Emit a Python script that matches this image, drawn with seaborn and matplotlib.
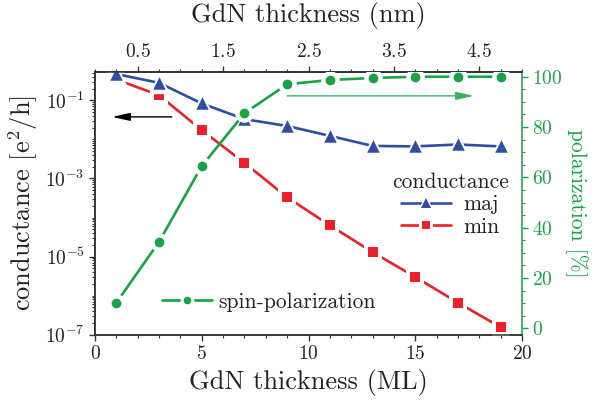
import numpy as np
import matplotlib
matplotlib.use("Agg")
import matplotlib.pyplot as plt
import seaborn as sns
from matplotlib.lines import Line2D
from matplotlib.legend_handler import HandlerTuple
from matplotlib.ticker import FixedLocator, LogLocator, MultipleLocator, NullFormatter, LogFormatterMathtext

# ---- data ----
thickness_ml = [1, 3, 5, 7, 9, 11, 13, 15, 17, 19]
g_maj = [0.47, 0.28, 0.083, 0.033, 0.022, 0.0123, 0.0068, 0.0066, 0.0074, 0.0066]
g_min = [0.34, 0.135, 0.0172, 2.5e-3, 3.3e-4, 6.3e-5, 1.3e-5, 3.0e-6, 6.6e-7, 1.55e-7]
polarization = [10.2, 34.4, 64.5, 85.5, 97.0, 98.7, 99.5, 100.0, 100.0, 100.0]
nm_ticks = [0.5, 1.5, 2.5, 3.5, 4.5]
ml_ticks = [0, 5, 10, 15, 20]
pol_ticks = [0, 20, 40, 60, 80, 100]
log_ticks = [1e-7, 1e-5, 1e-3, 1e-1]

BLUE = "#2F4EA3"
RED = "#EC1F2A"
GREEN = "#17A346"
ARROW_GREEN = "#36B45F"
DARK = "#222222"

sns.set_theme(style="ticks")
plt.rcParams.update({
    "font.family": "cmr10",
    "mathtext.fontset": "cm",
    "axes.formatter.use_mathtext": True,
    "axes.unicode_minus": False,
    "axes.edgecolor": "#333333",
    "axes.linewidth": 1.1,
    "xtick.color": "#333333",
    "ytick.color": "#333333",
    "xtick.labelcolor": DARK,
    "ytick.labelcolor": DARK,
})

fig = plt.figure(figsize=(5.99, 4.03), dpi=100)
L, R, T, B = 95, 522, 71.7, 334.7
ax = fig.add_axes([L / 599, 1 - B / 403, (R - L) / 599, (B - T) / 403])
ax2 = ax.twinx()

LW = 1.9
HALO = 3.2


def draw(axis, y, color, marker, ms, zb):
    sns.lineplot(x=thickness_ml, y=y, ax=axis, color=color, linewidth=LW,
                 zorder=zb, legend=False)
    sns.scatterplot(x=thickness_ml, y=y, ax=axis, color="white", marker=marker,
                    s=(ms + 2 * HALO) ** 2, linewidth=0, zorder=zb + 1, legend=False)
    sns.scatterplot(x=thickness_ml, y=y, ax=axis, color=color, marker=marker,
                    s=ms ** 2, linewidth=0, zorder=zb + 2, legend=False)


draw(ax, g_min, RED, "s", 7.0, 2)
draw(ax, g_maj, BLUE, "^", 9.0, 5)
draw(ax2, polarization, GREEN, "o", 7.0, 2)

# left axis
ax.set_yscale("log")
ax.set_ylim(1e-7, 0.54)
ax.set_xlim(0, 20)
ax.yaxis.set_major_locator(FixedLocator(log_ticks))
ax.yaxis.set_major_formatter(LogFormatterMathtext())
ax.yaxis.set_minor_locator(LogLocator(base=10, subs=np.arange(1, 10), numticks=30))
ax.yaxis.set_minor_formatter(NullFormatter())
ax.xaxis.set_major_locator(FixedLocator(ml_ticks))
ax.xaxis.set_minor_locator(MultipleLocator(1))
ax.tick_params(which="major", direction="out", length=4, width=1, labelsize=14)
ax.tick_params(which="minor", direction="out", length=2.5, width=0.8)
ax.set_xlabel("GdN thickness (ML)", fontsize=19, color=DARK, labelpad=4)
ax.set_ylabel("conductance [e$^2$/h]", fontsize=19, color=DARK, labelpad=4)

# top axis
sec = ax.secondary_xaxis("top", functions=(lambda x: np.asarray(x) / 4.0, lambda x: np.asarray(x) * 4.0))
sec.set_xticks(nm_ticks)
sec.xaxis.set_minor_locator(MultipleLocator(0.25))
sec.tick_params(which="major", direction="out", length=4, width=1, labelsize=14)
sec.tick_params(which="minor", direction="out", length=2.5, width=0.8)
sec.set_xlabel("GdN thickness (nm)", fontsize=19, color=DARK, labelpad=15)

# right axis
ax2.set_ylim(-2.5, 102)
ax2.yaxis.set_major_locator(FixedLocator(pol_ticks))
ax2.yaxis.set_minor_locator(MultipleLocator(5))
ax2.tick_params(axis="y", which="major", direction="out", length=4, width=1,
                labelsize=14, color=GREEN, labelcolor=GREEN)
ax2.tick_params(axis="y", which="minor", direction="out", length=2.5, width=0.8, color=GREEN)
ax2.spines["right"].set_color(GREEN)
ax.spines["right"].set_visible(False)
ax2.set_ylabel("polarization [%]", fontsize=15.5, color=GREEN, rotation=-90, labelpad=18)

# arrows
ax.annotate("", xy=(0.8, 0.0376), xytext=(3.6, 0.0376),
            arrowprops=dict(arrowstyle="-|>,head_length=0.9,head_width=0.2",
                            color="black", lw=1.0, shrinkA=0, shrinkB=0))
ax2.annotate("", xy=(17.75, 92.4), xytext=(9.0, 92.4),
             arrowprops=dict(arrowstyle="-|>,head_length=0.9,head_width=0.2",
                             color=ARROW_GREEN, lw=1.0, shrinkA=0, shrinkB=0))

# legends
def handle(color, marker, ms):
    line = Line2D([], [], color=color, lw=LW)
    halo = Line2D([], [], ls="", marker=marker, ms=ms + 2 * 2.2, color="white", mew=0)
    mk = Line2D([], [], ls="", marker=marker, ms=ms, color=color, mew=0)
    return (line, halo, mk)


leg1 = ax2.legend(handles=[handle(BLUE, "^", 7.0), handle(RED, "s", 5.5)],
                  labels=["maj", "min"], title="conductance",
                  handler_map={tuple: HandlerTuple(ndivide=1, pad=0)},
                  frameon=False, fontsize=15.5, title_fontsize=15.5,
                  handlelength=2.3, handletextpad=0.6, labelspacing=0.15,
                  borderpad=0, borderaxespad=0, numpoints=1,
                  loc="upper left", bbox_to_anchor=(392 / 599, 1 - 172 / 403),
                  bbox_transform=fig.transFigure)
for t in leg1.get_texts():
    t.set_color(DARK)
leg1.get_title().set_color(DARK)
ax2.add_artist(leg1)

leg2 = ax2.legend(handles=[handle(GREEN, "o", 5.5)], labels=["spin-polarization"],
                  handler_map={tuple: HandlerTuple(ndivide=1, pad=0)},
                  frameon=False, fontsize=15.5, handlelength=2.3, handletextpad=0.3,
                  borderpad=0, borderaxespad=0, numpoints=1,
                  loc="center left", bbox_to_anchor=(162 / 599, 1 - 302 / 403),
                  bbox_transform=fig.transFigure)
for t in leg2.get_texts():
    t.set_color(DARK)

fig.savefig("out.png", dpi=100)
